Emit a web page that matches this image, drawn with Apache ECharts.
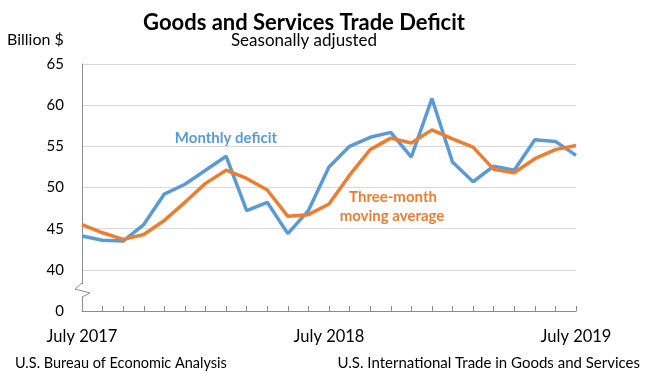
<!DOCTYPE html>
<html>
<head>
<meta charset="utf-8">
<script src="https://cdn.jsdelivr.net/npm/echarts@6/dist/echarts.min.js"></script>
<style>
html,body{margin:0;padding:0;background:#fff;}
#chart{width:658px;height:374px;}
</style>
</head>
<body>
<div id="chart"></div>
<script>
var months = ["July 2017","Aug 2017","Sep 2017","Oct 2017","Nov 2017","Dec 2017",
  "Jan 2018","Feb 2018","Mar 2018","Apr 2018","May 2018","June 2018",
  "July 2018","Aug 2018","Sep 2018","Oct 2018","Nov 2018","Dec 2018",
  "Jan 2019","Feb 2019","Mar 2019","Apr 2019","May 2019","June 2019","July 2019"];
var monthlyDeficit = [44.1,43.6,43.5,45.5,49.2,50.4,52.1,53.8,47.2,48.2,44.4,47.2,
  52.5,55.0,56.1,56.7,53.7,60.8,53.1,50.7,52.6,52.1,55.8,55.6,53.9];
var movingAverage = [45.5,44.5,43.7,44.3,46.0,48.2,50.5,52.1,51.1,49.7,46.5,46.7,
  48.0,51.5,54.6,56.0,55.4,57.0,55.9,54.9,52.2,51.8,53.5,54.6,55.1];
var yTickLabels = {35:"0",40:"40",45:"45",50:"50",55:"55",60:"60",65:"65"};

var FONT = "Lato, 'Open Sans', sans-serif";
var chart = echarts.init(document.getElementById('chart'), null, {renderer:'canvas'});
function txt(t, x, y, size, weight, color, align){
  return {type:'text', x:x, y:y, z:102, silent:true,
    style:{text:t, font:weight+' '+size+'px '+FONT, fill:color,
      textAlign:align, textVerticalAlign:'middle'}};
}
chart.setOption({
  animation:false,
  backgroundColor:'#ffffff',
  grid:{left:82, right:82, top:64, bottom:63, containLabel:false},
  xAxis:{
    type:'category', data:months, boundaryGap:false,
    axisLine:{show:true, lineStyle:{color:'#8c8c8c', width:1}},
    axisTick:{show:true, inside:true, length:5, interval:0, lineStyle:{color:'#8c8c8c'}},
    axisLabel:{interval:11, margin:17, fontFamily:FONT, fontSize:16.5, color:'#000'},
    splitLine:{show:false}
  },
  yAxis:{
    type:'value', min:35, max:65, interval:5,
    axisLine:{show:true, lineStyle:{color:'#8c8c8c', width:1}},
    axisTick:{show:false},
    axisLabel:{margin:18, fontFamily:FONT, fontSize:15, color:'#000',
      formatter:function(v){return yTickLabels[v] !== undefined ? yTickLabels[v] : '';}},
    splitLine:{show:true, lineStyle:{color:'#d9d9d9', width:1}}
  },
  series:[
    {name:'Monthly deficit', type:'line', data:monthlyDeficit, symbol:'none',
     lineStyle:{color:'#5B9BD5', width:3.5}, z:3},
    {name:'Three-month moving average', type:'line', data:movingAverage, symbol:'none',
     lineStyle:{color:'#ED7D31', width:3.5}, z:4}
  ],
  graphic:[
    {type:'rect', shape:{x:78, y:284, width:14, height:13}, style:{fill:'#fff'}, z:100},
    {type:'polyline', shape:{points:[[82,283],[75,289],[90,293],[82,297]]},
     style:{stroke:'#8c8c8c', lineWidth:1, fill:null}, z:101},
    txt('Goods and Services Trade Deficit', 304, 23, 22, 'bold', '#000', 'center'),
    txt('Seasonally adjusted', 304, 41, 17, 'normal', '#000', 'center'),
    txt('Billion $', 7, 40, 16, 'normal', '#000', 'left'),
    txt('U.S. Bureau of Economic Analysis', 15, 363, 14.5, 'normal', '#000', 'left'),
    txt('U.S. International Trade in Goods and Services', 640, 363, 15, 'normal', '#000', 'right'),
    txt('Monthly deficit', 226, 138, 15, 'bold', '#5B9BD5', 'center'),
    txt('Three-month', 393, 197, 15, 'bold', '#ED7D31', 'center'),
    txt('moving average', 392, 216, 15, 'bold', '#ED7D31', 'center')
  ]
});
</script>
</body>
</html>
